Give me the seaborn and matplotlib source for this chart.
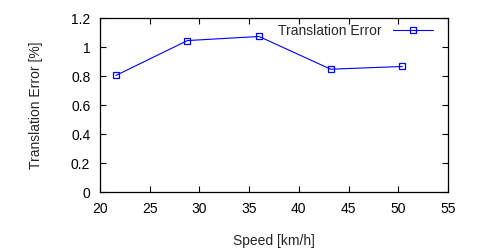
import matplotlib
matplotlib.use("Agg")
import matplotlib.pyplot as plt
import seaborn as sns
import pandas as pd

speed = [21.6, 28.8, 36.0, 43.2, 50.4]
trans_err = [0.805, 1.046, 1.074, 0.848, 0.867]
xticks = [20, 25, 30, 35, 40, 45, 50, 55]
yticks = [0, 0.2, 0.4, 0.6, 0.8, 1.0, 1.2]
ytick_labels = ["0", "0.2", "0.4", "0.6", "0.8", "1", "1.2"]

sns.set_style("ticks")
plt.rcParams['font.family'] = ['Liberation Sans', 'DejaVu Sans']

df = pd.DataFrame({"Speed": speed, "Err": trans_err})

fig = plt.figure(figsize=(5, 2.5), dpi=100)
ax = fig.add_axes([0.2, 0.232, 0.696, 0.695])
sns.lineplot(data=df, x="Speed", y="Err", ax=ax, color="#0000ff", linewidth=0.8,
             marker="s", markersize=5, markerfacecolor="none", markeredgecolor="#0000ff",
             markeredgewidth=0.9, label="Translation Error")
ax.set_xlim(20, 55)
ax.set_ylim(0, 1.2)
ax.set_xticks(xticks)
ax.set_xticklabels([str(t) for t in xticks])
ax.set_yticks(yticks)
ax.set_yticklabels(ytick_labels)
ax.tick_params(direction="in", top=True, right=True, length=4, width=0.8,
               labelsize=10, pad=7, colors="black")
for s in ax.spines.values():
    s.set_linewidth(0.9)
    s.set_color("black")
ax.set_xlabel("Speed [km/h]", fontsize=10, labelpad=13)
ax.set_ylabel("Translation Error [%]", fontsize=10, labelpad=20)
leg = ax.legend(loc="upper right", frameon=False, fontsize=10, markerfirst=False,
                handlelength=2.9, bbox_to_anchor=(0.985, 1.025), borderaxespad=0.3)
fig.savefig("out.png", dpi=100)
